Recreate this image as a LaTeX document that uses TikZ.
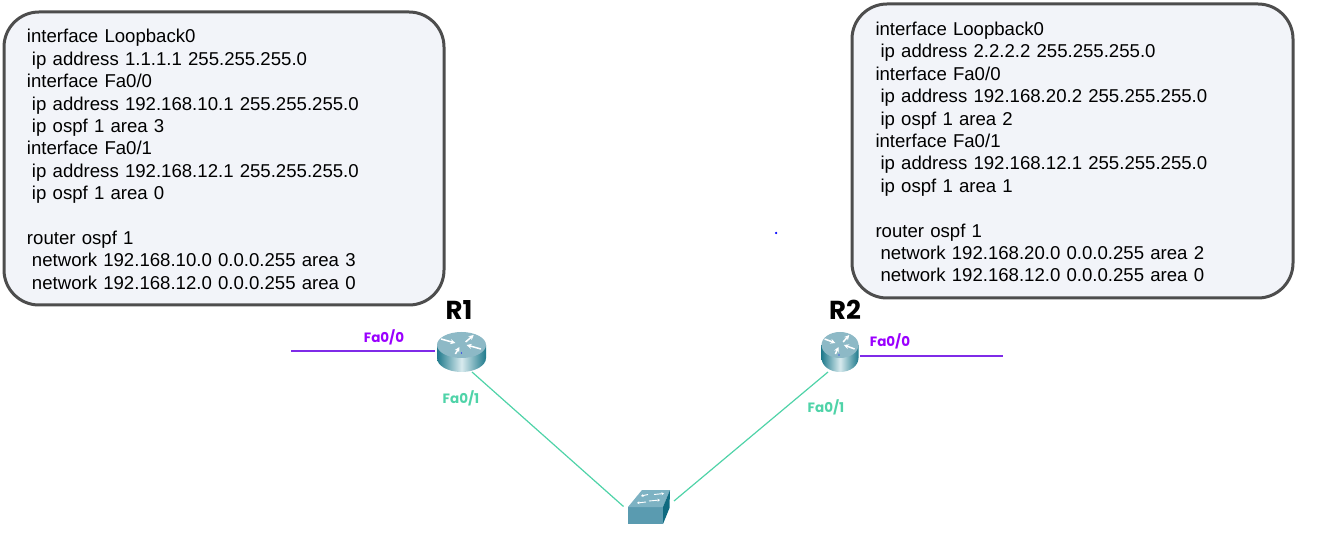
\documentclass[tikz,border=0pt]{standalone}
\usepackage{fontspec}
\setmainfont{Liberation Sans}
\newfontfamily\labelfont{Poppins}
\definecolor{boxfill}{HTML}{F2F4F9}
\definecolor{boxline}{HTML}{4D4D4D}
\definecolor{purpleline}{HTML}{7F2BE8}
\definecolor{purpletext}{HTML}{9A00FF}
\definecolor{greenline}{HTML}{4FD3A8}
\definecolor{routerdark}{HTML}{1F7A8C}
\definecolor{routerlight}{HTML}{D8EAEE}
\definecolor{routertop}{HTML}{8DB9C6}
\definecolor{swfront}{HTML}{5A9BB0}
\definecolor{swtop}{HTML}{7DB2C3}
\definecolor{swside}{HTML}{0F6A80}
\newcommand{\ind}{\hspace*{5pt}}
\usetikzlibrary{arrows.meta}
\tikzset{
  x=1pt,y=-1pt,
  configbox/.style={draw=boxline,line width=3pt,fill=boxfill,rounded corners=35pt,outer sep=0pt,
    minimum width=440pt,minimum height=293pt,inner xsep=23pt,inner ysep=0pt,
    text width=394pt,align=left,anchor=north west,
    font=\fontsize{18.6}{22.4}\selectfont},
  hostname/.style={font=\labelfont\bfseries\fontsize{26}{28}\selectfont,text=black,inner sep=0pt},
  portA/.style={font=\labelfont\bfseries\fontsize{13.5}{15}\selectfont,text=purpletext,inner sep=0pt},
  portB/.style={font=\labelfont\bfseries\fontsize{13.5}{15}\selectfont,text=greenline,inner sep=0pt},
  linkA/.style={draw=purpleline,line width=1.4pt},
  linkB/.style={draw=greenline,line width=1.2pt},
  devicebox/.style={inner sep=0pt,minimum height=40pt},
  arrowmark/.style={draw=white,line width=1.5pt,-{Stealth[length=5pt,width=5pt]}},
  bluedot/.style={circle,fill=blue,inner sep=0pt,minimum size=2.5pt},
}
% #1 centre x, #2 half width
\newcommand{\routericon}[2]{%
  \begin{scope}[shift={(#1,0)}]
    \path[left color=routerdark,right color=routerdark,middle color=routerlight]
      (-#2,345) -- (-#2,358) arc[start angle=180,end angle=360,x radius=#2pt,y radius=14pt]
      -- (#2,345) -- cycle;
    \path[fill=routertop] (0,345) ellipse[x radius=#2pt,y radius=13pt];
    \begin{scope}[xscale=#2/24]
      \draw[arrowmark] (-20,339) -- (-6,343);
      \draw[arrowmark] (19,349) -- (5,345);
      \draw[arrowmark] (-6,354) -- (-2,347);
      \draw[arrowmark] (4,342) -- (12,335);
    \end{scope}
  \end{scope}}
\begin{document}
\begin{tikzpicture}
\useasboundingbox (0,0) rectangle (1317,534);
\node[configbox] (cfgA) at (4,12) {\rule{0pt}{15.5pt}interface Loopback0\\
\ind ip address 1.1.1.1 255.255.255.0\\
interface Fa0/0\\
\ind ip address 192.168.10.1 255.255.255.0\\
\ind ip ospf 1 area 3\\
interface Fa0/1\\
\ind ip address 192.168.12.1 255.255.255.0\\
\ind ip ospf 1 area 0\\
\mbox{}\\
router ospf 1\\
\ind network 192.168.10.0 0.0.0.255 area 3\\
\ind network 192.168.12.0 0.0.0.255 area 0};
\node[configbox,minimum width=441pt,minimum height=294pt] (cfgB) at (852,4) {\rule{0pt}{15.5pt}interface Loopback0\\
\ind ip address 2.2.2.2 255.255.255.0\\
interface Fa0/0\\
\ind ip address 192.168.20.2 255.255.255.0\\
\ind ip ospf 1 area 2\\
interface Fa0/1\\
\ind ip address 192.168.12.1 255.255.255.0\\
\ind ip ospf 1 area 1\\
\mbox{}\\
router ospf 1\\
\ind network 192.168.20.0 0.0.0.255 area 2\\
\ind network 192.168.12.0 0.0.0.255 area 0};

\node[bluedot] (dot) at (776,233) {};

\node[hostname] (nameA) at (459,310) {R1};
\node[hostname] (nameB) at (845,310) {R2};

\routericon{461.5}{24.5}
\routericon{840}{18.5}
\node[devicebox,minimum width=49pt] (routerA) at (461.5,352) {};
\node[devicebox,minimum width=37pt] (routerB) at (840,352) {};
\node[bluedot,minimum size=1.2pt] (dotA) at (461.5,353) {};
\node[bluedot,minimum size=1.2pt] (dotB) at (839,355) {};

\fill[swfront] (628,507) -- (663,507) -- (663,524) -- (628,524) -- cycle;
\fill[swtop] (628,507) -- (642,490) -- (670,490) -- (663,507) -- cycle;
\fill[swside] (663,507) -- (670,490) -- (669.5,508) -- (663,524) -- cycle;
\draw[white,line width=0.9pt,-{Stealth[length=2.5pt,width=3pt]}] (648,494.5) -- (641,496);
\draw[white,line width=0.9pt,-{Stealth[length=2.5pt,width=3pt]}] (654,494.5) -- (664,493.5);
\draw[white,line width=0.9pt,-{Stealth[length=2.5pt,width=3pt]}] (646,502) -- (637,503);
\draw[white,line width=0.9pt,-{Stealth[length=2.5pt,width=3pt]}] (649,501) -- (660,500);
\node[inner sep=0pt,minimum width=42pt,minimum height=34pt] (switch) at (649,507) {};

\coordinate (freeA) at (291,351.2);
\coordinate (freeB) at (1003,356.2);
\coordinate (portAa) at (434.5,351.2);
\coordinate (portBa) at (860,356.2);
\coordinate (portAb) at (472,372);
\coordinate (portBb) at (828,372);
\coordinate (swA) at (623.5,506.5);
\coordinate (swB) at (674,501);
\draw[linkA] (freeA) -- (portAa);
\draw[linkA] (portBa) -- (freeB);
\draw[linkB] (portAb) -- (swA);
\draw[linkB] (portBb) -- (swB);

\node[portA] (labelAa) at (384,337) {Fa0/0};
\node[portA] (labelBa) at (890,341) {Fa0/0};
\node[portB] (labelAb) at (461,398) {Fa0/1};
\node[portB] (labelBb) at (826,407) {Fa0/1};
\end{tikzpicture}
\end{document}
